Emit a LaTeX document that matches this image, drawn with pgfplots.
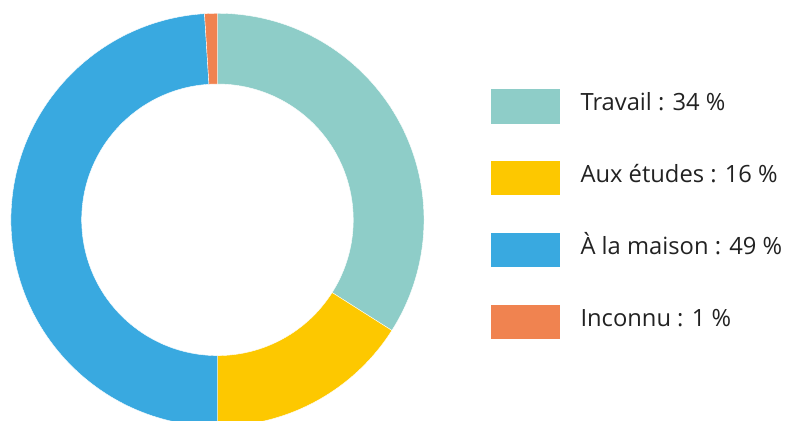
\documentclass[border=0pt]{standalone}
\usepackage{pgfplots}
\pgfplotsset{compat=1.18}
\usepackage{pgfplotstable}
\usepackage{fontspec}
\setmainfont{Open Sans}

\definecolor{travail}{HTML}{8ECDC8}
\definecolor{etudes}{HTML}{FDC800}
\definecolor{maison}{HTML}{39A9E0}
\definecolor{inconnu}{HTML}{F08350}
\definecolor{txt}{HTML}{222222}

% share of each place, in %, clockwise from the top
\pgfplotstableread[col sep=comma]{
label,pct,col
Travail,34,travail
Etudes,16,etudes
Maison,49,maison
Inconnu,1,inconnu
}\parts

% donut geometry, in pt (axis units are pt)
\def\cx{163.1}
\def\cy{150.9}
\def\Ro{154.9}
\def\Ri{101.85}

\begin{document}
\begin{tikzpicture}
\useasboundingbox (0,0) rectangle (588.75pt,315.75pt);
\clip (0,0) rectangle (588.75pt,315.75pt);
\begin{axis}[
    hide axis,
    scale only axis,
    width=588.75pt, height=315.75pt,
    at={(0,0)}, anchor=south west,
    xmin=0, xmax=588.75, ymin=0, ymax=315.75,
    clip=false,
    legend cell align=left,
    legend image code/.code={\fill[#1] (0pt,-15pt) rectangle (51pt,10pt);},
    legend style={draw=none, fill=none, inner sep=0pt, outer sep=0pt,
      at={(axis cs:368.25,248.8)}, anchor=north west,
      row sep=28.5pt, column sep=15.75pt,
      font=\fontsize{17.8}{21}\selectfont, text=txt,
      nodes={inner sep=0pt, text height=12pt, text depth=0pt}},
  ]
\pgfplotstablegetrowsof{\parts}
\pgfmathtruncatemacro\nrows{\pgfplotsretval-1}
\def\cum{0}
\pgfplotsforeachungrouped \i in {0,...,\nrows}{
  \pgfplotstablegetelem{\i}{pct}\of\parts \let\p=\pgfplotsretval
  \pgfplotstablegetelem{\i}{col}\of\parts \let\c=\pgfplotsretval
  \pgfmathsetmacro\a{90-3.6*\cum}
  \pgfmathsetmacro\b{90-3.6*(\cum+\p)}
  \pgfmathsetmacro\cum{\cum+\p}
  \edef\cmd{\noexpand\filldraw[fill=\c, draw=white, line width=0.3pt]
    ([shift={(\a:\Ro pt)}]axis cs:\cx,\cy)
    arc[start angle=\a, end angle=\b, radius=\Ro pt]
    -- ([shift={(\b:\Ri pt)}]axis cs:\cx,\cy)
    arc[start angle=\b, end angle=\a, radius=\Ri pt] -- cycle;}
  \cmd
}
\addlegendimage{travail}
\addlegendentry{Travail : 34 \%}
\addlegendimage{etudes}
\addlegendentry{Aux études : 16 \%}
\addlegendimage{maison}
\addlegendentry{À la maison : 49 \%}
\addlegendimage{inconnu}
\addlegendentry{Inconnu : 1 \%}
\end{axis}
\end{tikzpicture}
\end{document}
